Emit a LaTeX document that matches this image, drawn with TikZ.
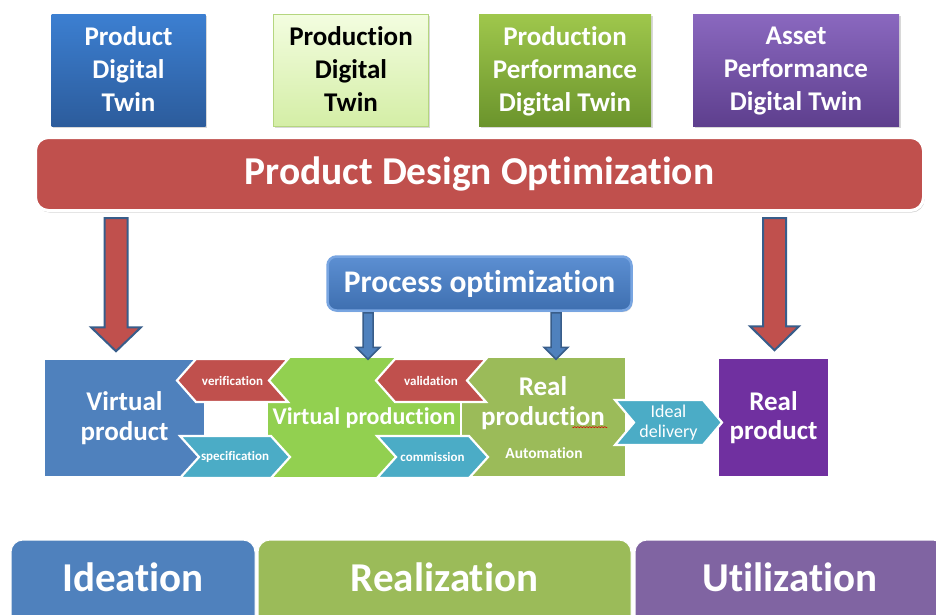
\documentclass[tikz,border=0pt]{standalone}
\usepackage{fontspec}
\setmainfont[Ligatures=NoCommon]{Carlito}
\usetikzlibrary{calc,shadows,decorations.pathmorphing}

\definecolor{pblue}{HTML}{4F81BD}
\definecolor{pgreen}{HTML}{92D050}
\definecolor{polive}{HTML}{9BBB59}
\definecolor{pred}{HTML}{C0504D}
\definecolor{pteal}{HTML}{4BACC6}
\definecolor{ppurple}{HTML}{7030A0}
\definecolor{plavender}{HTML}{8064A2}
\definecolor{arrowedge}{HTML}{385D8A}
\definecolor{twinbluetop}{HTML}{3C7FD1}
\definecolor{twinbluebot}{HTML}{2C5C9C}
\definecolor{twinlimetop}{HTML}{F3FDE0}
\definecolor{twinlimebot}{HTML}{D4EEA6}
\definecolor{twinlimeedge}{HTML}{B5D67F}
\definecolor{twingreentop}{HTML}{9FC74C}
\definecolor{twingreenbot}{HTML}{6B942C}
\definecolor{twinpurpletop}{HTML}{8A68BF}
\definecolor{twinpurplebot}{HTML}{5E3F8E}
\definecolor{procedge}{HTML}{78A5E1}
\definecolor{proctop}{HTML}{5C8FD2}
\definecolor{procbot}{HTML}{3E6FB0}

% right-pointing chevron: [label style]{name}{colour}{x of left corners}{top}{bottom}{corner-to-corner width}{label}
\newcommand\chevronright[8][]{%
  \path[chev,fill=#3] (#4,#5) -- ({#4+#7},#5) -- ({#4+#7+19},{(#5+#6)/2}) -- ({#4+#7},#6)
    -- (#4,#6) -- ({#4+19},{(#5+#6)/2}) -- cycle;
  \node[chevtext,#1] (#2) at ({#4+(#7+19)/2},{(#5+#6)/2}) {#8};}
% left-pointing chevron, same arguments
\newcommand\chevronleft[8][]{%
  \path[chev,fill=#3] (#4,#5) -- ({#4+#7},#5) -- ({#4+#7-19},{(#5+#6)/2}) -- ({#4+#7},#6)
    -- (#4,#6) -- ({#4-19},{(#5+#6)/2}) -- cycle;
  \node[chevtext,#1] (#2) at ({#4+(#7-19)/2},{(#5+#6)/2}) {#8};}
% downward block arrow: style, x, source anchor, target anchor, top gap,
% tip offset (signed), shaft half width, head half width, head length
\newcommand\downblockarrow[9]{%
  \path[#1] let \p1=(#3), \p2=(#4) in
    ({#2pt-#7pt},{\y1-#5pt}) -- ({#2pt+#7pt},{\y1-#5pt})
    -- ({#2pt+#7pt},{\y2#6pt+#9pt}) -- ({#2pt+#8pt},{\y2#6pt+#9pt})
    -- (#2pt,{\y2#6pt})
    -- ({#2pt-#8pt},{\y2#6pt+#9pt}) -- ({#2pt-#7pt},{\y2#6pt+#9pt}) -- cycle;}

\begin{document}
\begin{tikzpicture}[x=1pt,y=-1pt,
  twin/.style={rectangle, minimum height=112pt,
    drop shadow={shadow xshift=1.5pt,shadow yshift=-1.5pt,opacity=0.3}},
  twintext/.style={align=center, text=white,
    font=\fontsize{27}{33}\selectfont\bfseries,
    execute at begin node=\strut, execute at end node=\strut},
  blk/.style={rectangle, draw=white, line width=1.5pt, align=center, text=white,
    font=\fontsize{27}{29.5}\selectfont\bfseries},
  chev/.style={draw=white, line width=2.2pt, line join=miter},
  chevtext/.style={align=center, text=white, font=\fontsize{13}{15}\selectfont\bfseries},
  bigarrow/.style={fill=pred, draw=arrowedge, line width=2pt, line join=miter},
  smallarrow/.style={fill=pblue, draw=arrowedge, line width=1.5pt, line join=miter},
  tab/.style={rectangle, rounded corners=12pt, minimum height=120pt, draw=white, line width=1pt},
  tablabel/.style={text=white, font=\fontsize{41}{48}\selectfont\bfseries}]

\clip (0,0) rectangle (936,614);
\fill[white] (0,0) rectangle (936,614);

% the four digital twins
\node[twin, minimum width=154pt, top color=twinbluetop, bottom color=twinbluebot] (pdt) at (128.5,70) {};
\node[twin, minimum width=155pt, draw=twinlimeedge, line width=0.8pt,
  top color=twinlimetop, bottom color=twinlimebot] (prdt) at (351,70) {};
\node[twin, minimum width=172pt, top color=twingreentop, bottom color=twingreenbot] (ppdt) at (565,70) {};
\node[twin, minimum width=206pt, top color=twinpurpletop, bottom color=twinpurplebot] (apdt) at (796,70) {};
\node[twintext] (pdtlabel) at ([yshift=-4pt]pdt.center) {Product\\Digital\\Twin};
\node[twintext, text=black] (prdtlabel) at ([yshift=-4pt]prdt.center) {Production\\Digital\\Twin};
\node[twintext] (ppdtlabel) at ([yshift=-4pt]ppdt.center) {Production\\Performance\\Digital Twin};
\node[twintext] (apdtlabel) at ([yshift=-4pt]apdt.center) {Asset\\Performance\\Digital Twin};

% design optimisation bar
\node[rectangle, rounded corners=13pt, fill=pred, draw=white, line width=3pt,
  minimum width=888pt, minimum height=73pt, text=white,
  font=\fontsize{39.5}{44}\selectfont\bfseries,
  drop shadow={shadow xshift=1pt,shadow yshift=-2pt,opacity=0.35}]
  (pdo) at (479.5,174) {Product Design Optimization};

% process optimisation box
\node[rectangle, rounded corners=9pt, line width=2.5pt, draw=procedge,
  top color=proctop, bottom color=procbot,
  minimum width=304pt, minimum height=54pt, text=white,
  font=\fontsize{31.5}{36}\selectfont\bfseries,
  drop shadow={shadow xshift=1pt,shadow yshift=-1.5pt,opacity=0.3}]
  (po) at (479.5,283.5) {Process optimization};

% lifecycle row
\node[blk, fill=pblue, minimum width=161pt, minimum height=118pt] (vp) at (124.5,418) {Virtual\\product};
\node[blk, fill=pgreen, minimum width=194pt, minimum height=121pt,
  font=\fontsize{24}{28}\selectfont\bfseries] (vprod) at (364,417.5) {Virtual production};
\node[blk, fill=polive, minimum width=165pt, minimum height=120pt] (rprod) at (543.5,417) {};
\node[blk, fill=ppurple, minimum width=111pt, minimum height=119pt] (rp) at (773.5,417.5) {Real\\product};

\node[align=center, text=white, font=\fontsize{27}{30}\selectfont\bfseries]
  (rprodtext) at (543,403) {Real\\production};
\node[anchor=base, text=white, font=\fontsize{15.5}{18}\selectfont\bfseries]
  (automation) at (544,458) {Automation};
\draw[red!85!black, line width=0.5pt, decorate,
  decoration={snake, amplitude=0.6pt, segment length=3pt}]
  ([xshift=-1pt,yshift=6pt]rprodtext.south east) -- ([xshift=-36pt,yshift=6pt]rprodtext.south east);

\chevronleft{verification}{pred}{196}{359}{402}{92}{verification}
\chevronleft{validation}{pred}{395}{359}{402}{91}{validation}
\chevronright{specification}{pteal}{180}{436}{478}{91}{specification}
\chevronright{commission}{pteal}{377}{436}{478}{92}{commission}
\chevronright[font=\fontsize{18}{20}\selectfont\mdseries]{delivery}{pteal}{615}{400}{445}{88}{Ideal\\delivery}

% arrows
\downblockarrow{bigarrow}{116}{pdo.south}{vp.north}{6}{+7}{11.5}{25}{24}
\downblockarrow{bigarrow}{774.5}{pdo.south}{rp.north}{6}{+7}{11.5}{24.5}{24}
\downblockarrow{smallarrow}{368}{po.south}{vprod.north}{1}{-3}{5}{12}{12}
\downblockarrow{smallarrow}{556}{po.south}{rprod.north}{1}{-3}{5}{12}{12}

% lifecycle phases
\node[tab, fill=pblue, minimum width=244pt] (ideation) at (133,600) {};
\node[tab, fill=polive, minimum width=373pt] (realization) at (444.5,600) {};
\node[tab, fill=plavender, minimum width=310pt] (utilization) at (790,600) {};
\node[tablabel] at ([yshift=-37.5pt]ideation.north) {Ideation};
\node[tablabel] at ([yshift=-37.5pt]realization.north) {Realization};
\node[tablabel] at ([yshift=-37.5pt]utilization.north) {Utilization};
\end{tikzpicture}
\end{document}
